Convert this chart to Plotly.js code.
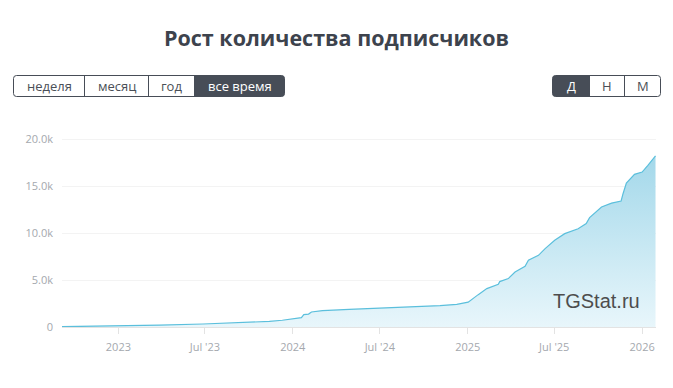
<!DOCTYPE html>
<html>
<head>
<meta charset="utf-8">
<script src="https://cdn.plot.ly/plotly-3.0.1.min.js"></script>
<style>
html,body{margin:0;padding:0;background:#fff;}
#chart{width:673px;height:388px;}
</style>
</head>
<body>
<div id="chart"></div>
<script>
// ---- data ----
var dates = ['2022-09-04','2022-11-01','2023-01-01','2023-03-28','2023-06-27','2023-09-01','2023-10-13','2023-11-13','2023-12-10','2024-01-01','2024-01-19','2024-01-24','2024-02-03','2024-02-09','2024-03-03','2024-04-28','2024-06-24','2024-09-16','2024-11-04','2024-12-09','2024-12-23','2025-01-02','2025-01-23','2025-02-10','2025-03-06','2025-03-09','2025-03-27','2025-04-10','2025-05-01','2025-05-08','2025-05-29','2025-06-12','2025-07-02','2025-07-23','2025-08-20','2025-09-06','2025-09-13','2025-09-27','2025-10-08','2025-10-29','2025-11-18','2025-11-22','2025-11-29','2025-12-16','2026-01-01','2026-01-13','2026-01-29'];
var subscribers = [30,60,100,200,320,420,500,600,720,850,1000,1320,1380,1600,1750,1870,1990,2130,2280,2420,2550,2650,3450,4090,4550,4840,5160,5860,6470,7110,7640,8350,9240,9950,10480,11020,11660,12250,12790,13210,13430,14210,15340,16270,16520,17230,18250];
var xTickVals = ['2023-01-01','2023-07-01','2024-01-01','2024-07-01','2025-01-01','2025-07-01','2026-01-01'];
var xTickText = ['2023',"Jul '23",'2024',"Jul '24",'2025',"Jul '25",'2026'];
var yTickVals = [0,5000,10000,15000,20000];
var yTickText = ['0','5.0k','10.0k','15.0k','20.0k'];
var periodButtons = ['неделя','месяц','год','все время'];
var scaleButtons = ['Д','Н','М'];
var titleText = 'Рост количества подписчиков';
var watermark = 'TGStat.ru';

// ---- geometry helpers ----
var W = 673, H = 388, ML = 62, MR = 17, MT = 130, MB = 61;
var PW = W - ML - MR, PH = H - MT - MB;
function px(x){ return (x - ML) / PW; }
function py(y){ return (H - MB - y) / PH; }

function rrect(x0, y0, x1, y1, r, rl, rr){
  var rx = r / PW, ry = r / PH;
  var X0 = px(x0), X1 = px(x1), T = py(y0), B = py(y1);
  var p = '';
  if (rl) { p += 'M' + (X0+rx) + ',' + T; } else { p += 'M' + X0 + ',' + T; }
  if (rr) {
    p += ' L' + (X1-rx) + ',' + T + ' Q' + X1 + ',' + T + ' ' + X1 + ',' + (T-ry);
    p += ' L' + X1 + ',' + (B+ry) + ' Q' + X1 + ',' + B + ' ' + (X1-rx) + ',' + B;
  } else {
    p += ' L' + X1 + ',' + T + ' L' + X1 + ',' + B;
  }
  if (rl) {
    p += ' L' + (X0+rx) + ',' + B + ' Q' + X0 + ',' + B + ' ' + X0 + ',' + (B+ry);
    p += ' L' + X0 + ',' + (T-ry) + ' Q' + X0 + ',' + T + ' ' + (X0+rx) + ',' + T;
  } else {
    p += ' L' + X0 + ',' + B + ' L' + X0 + ',' + T;
  }
  return p + ' Z';
}

var dark = '#474d57';
var shapes = [], annotations = [];
function group(edges, labels, activeIdx, top, bottom){
  var x0 = edges[0], x1 = edges[edges.length-1];
  var a0 = edges[activeIdx], a1 = edges[activeIdx+1];
  shapes.push({type:'path', xref:'paper', yref:'paper', layer:'above',
    path: rrect(a0, top, a1, bottom, 3, activeIdx===0, activeIdx===labels.length-1),
    fillcolor: dark, line:{width:0}});
  shapes.push({type:'path', xref:'paper', yref:'paper', layer:'above',
    path: rrect(x0, top, x1, bottom, 3, true, true),
    fillcolor:'rgba(0,0,0,0)', line:{color:dark, width:1}});
  for (var i = 1; i < edges.length-1; i++) {
    shapes.push({type:'line', xref:'paper', yref:'paper', layer:'above',
      x0: px(edges[i]), x1: px(edges[i]), y0: py(top), y1: py(bottom),
      line:{color:dark, width:1}});
  }
  for (var j = 0; j < labels.length; j++) {
    annotations.push({xref:'paper', yref:'paper', showarrow:false,
      x: px((edges[j]+edges[j+1])/2), y: py((top+bottom)/2),
      xanchor:'center', yanchor:'middle', text: labels[j],
      font:{family:'Open Sans, sans-serif', size:13, color: j===activeIdx ? '#ffffff' : '#4a4f57'}});
  }
}
group([13.5, 84.5, 148.5, 194.5, 284.5], periodButtons, 3, 75.5, 96.5);
group([552.5, 589.5, 624.5, 660.5], scaleButtons, 0, 75.5, 96.5);

annotations.push({xref:'paper', yref:'paper', showarrow:false,
  x: px(551), y: py(301), xanchor:'left', yanchor:'middle', text: watermark,
  font:{family:'Liberation Sans, Arial, sans-serif', size:20, color:'#4d4d4d'}});

var trace = {
  type:'scatter', mode:'lines', x: dates, y: subscribers,
  line:{color:'#5bbfdc', width:1.2},
  fill:'tozeroy',
  fillgradient:{type:'vertical', colorscale:[[0,'#e8f6fb'],[1,'#a3d8ea']]},
  hoverinfo:'x+y'
};

var layout = {
  width: W, height: H,
  margin:{l:ML, r:MR, t:MT, b:MB, pad:0},
  paper_bgcolor:'#ffffff', plot_bgcolor:'#ffffff',
  showlegend:false,
  title:{text: titleText, x:0.5, xref:'container', xanchor:'center',
    y: 1 - 38/H, yref:'container', yanchor:'middle',
    font:{family:'Open Sans, sans-serif', size:21.5, color:'#3d434d', weight:700}},
  xaxis:{type:'date', range:['2022-09-05','2026-01-30'],
    tickvals: xTickVals, ticktext: xTickText,
    ticks:'outside', ticklen:6, tickcolor:'#e3e3e3', tickwidth:1,
    showline:true, linecolor:'#e3e3e3', linewidth:1,
    showgrid:false, zeroline:false, ticklabelstandoff:4,
    tickfont:{family:'Open Sans, sans-serif', size:11, color:'#a4a8ae'}},
  yaxis:{range:[0,21000], tickvals: yTickVals, ticktext: yTickText,
    showgrid:true, gridcolor:'#f3f3f3', gridwidth:1,
    zeroline:false, showline:false, ticks:'', ticklabelstandoff:8,
    tickfont:{family:'Open Sans, sans-serif', size:11, color:'#a4a8ae'}},
  shapes: shapes,
  annotations: annotations
};

Plotly.newPlot('chart', [trace], layout, {displayModeBar:false, staticPlot:true});
</script>
</body>
</html>
